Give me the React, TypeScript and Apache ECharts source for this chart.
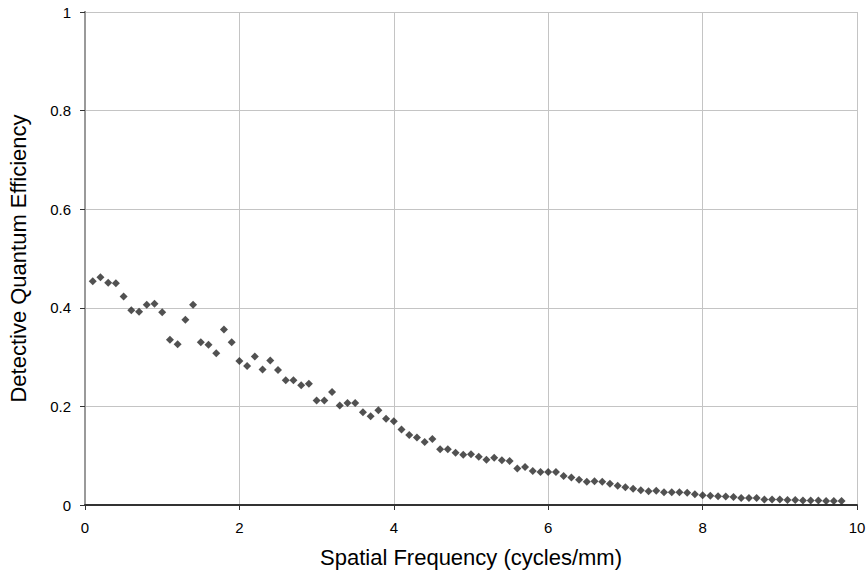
import React, { useEffect, useRef } from "react";
import * as echarts from "echarts";

const frequencies: number[] = [
  0.1, 0.2, 0.3, 0.4, 0.5, 0.6, 0.7, 0.8, 0.9, 1.0,
  1.1, 1.2, 1.3, 1.4, 1.5, 1.6, 1.7, 1.8, 1.9, 2.0,
  2.1, 2.2, 2.3, 2.4, 2.5, 2.6, 2.7, 2.8, 2.9, 3.0,
  3.1, 3.2, 3.3, 3.4, 3.5, 3.6, 3.7, 3.8, 3.9, 4.0,
  4.1, 4.2, 4.3, 4.4, 4.5, 4.6, 4.7, 4.8, 4.9, 5.0,
  5.1, 5.2, 5.3, 5.4, 5.5, 5.6, 5.7, 5.8, 5.9, 6.0,
  6.1, 6.2, 6.3, 6.4, 6.5, 6.6, 6.7, 6.8, 6.9, 7.0,
  7.1, 7.2, 7.3, 7.4, 7.5, 7.6, 7.7, 7.8, 7.9, 8.0,
  8.1, 8.2, 8.3, 8.4, 8.5, 8.6, 8.7, 8.8, 8.9, 9.0,
  9.1, 9.2, 9.3, 9.4, 9.5, 9.6, 9.7, 9.8,
];

const dqe: number[] = [
  0.454, 0.462, 0.451, 0.45, 0.423, 0.395, 0.392, 0.406, 0.408, 0.391,
  0.335, 0.326, 0.376, 0.406, 0.33, 0.325, 0.308, 0.356, 0.33, 0.292,
  0.282, 0.301, 0.275, 0.293, 0.274, 0.253, 0.253, 0.243, 0.246, 0.212,
  0.212, 0.229, 0.202, 0.207, 0.207, 0.188, 0.18, 0.192, 0.175, 0.17,
  0.153, 0.142, 0.137, 0.128, 0.134, 0.113, 0.113, 0.106, 0.102, 0.103,
  0.098, 0.092, 0.096, 0.091, 0.089, 0.074, 0.077, 0.069, 0.067, 0.067,
  0.067, 0.059, 0.056, 0.051, 0.047, 0.048, 0.047, 0.043, 0.039, 0.036,
  0.033, 0.03, 0.028, 0.029, 0.026, 0.026, 0.026, 0.025, 0.022, 0.02,
  0.019, 0.018, 0.017, 0.016, 0.014, 0.014, 0.014, 0.011, 0.011, 0.011,
  0.01, 0.01, 0.009, 0.009, 0.009, 0.008, 0.008, 0.008,
];

const xTitle = "Spatial Frequency (cycles/mm)";
const yTitle = "Detective Quantum Efficiency";

export default function App() {
  const ref = useRef<HTMLDivElement>(null);
  useEffect(() => {
    if (!ref.current) return;
    const chart = echarts.init(ref.current, undefined, { renderer: "svg" });
    const font = "Liberation Sans, Arial, sans-serif";
    chart.setOption({
      animation: false,
      backgroundColor: "#ffffff",
      grid: {
        left: 85,
        right: 10,
        top: 12,
        bottom: 68,
        containLabel: false,
        outerBoundsMode: "none",
      },
      xAxis: {
        type: "value",
        min: 0,
        max: 10,
        interval: 2,
        name: xTitle,
        nameLocation: "middle",
        nameGap: 41,
        nameTextStyle: { fontFamily: font, fontSize: 22, color: "#000" },
        axisLine: { show: true, onZero: false, lineStyle: { color: "#333", width: 2 } },
        axisTick: { show: true, length: 5, lineStyle: { color: "#333" } },
        axisLabel: { fontFamily: font, fontSize: 15, color: "#000", margin: 15 },
        splitLine: { show: true, lineStyle: { color: "#c4c4c4", width: 1 } },
      },
      yAxis: [
        {
          type: "value",
          min: 0,
          max: 1,
          interval: 0.2,
          name: yTitle,
          nameLocation: "middle",
          nameGap: 56,
          nameTextStyle: { fontFamily: font, fontSize: 22, color: "#000" },
          axisLine: { show: true, onZero: false, lineStyle: { color: "#555", width: 2 } },
          axisTick: { show: true, length: 5, lineStyle: { color: "#333" } },
          axisLabel: {
            fontFamily: font,
            fontSize: 15,
            color: "#000",
            margin: 14,
            formatter: (v: number) => String(Math.round(v * 10) / 10),
          },
          splitLine: { show: true, lineStyle: { color: "#c4c4c4", width: 1 } },
        },
        {
          type: "value",
          position: "right",
          min: 0,
          max: 1,
          interval: 0.2,
          axisLine: { show: true, lineStyle: { color: "#9a9a9a", width: 2 } },
          axisTick: { show: false },
          axisLabel: { show: false },
          splitLine: { show: false },
        },
      ],
      series: [
        {
          type: "scatter",
          data: frequencies.map((f, i) => [f, dqe[i]]),
          symbol: "diamond",
          symbolSize: 8,
          itemStyle: { color: "#262626" },
        },
      ],
    });
    return () => chart.dispose();
  }, []);
  return <div ref={ref} style={{ width: 867, height: 573, position: "absolute", left: 0, top: 0 }} />;
}
